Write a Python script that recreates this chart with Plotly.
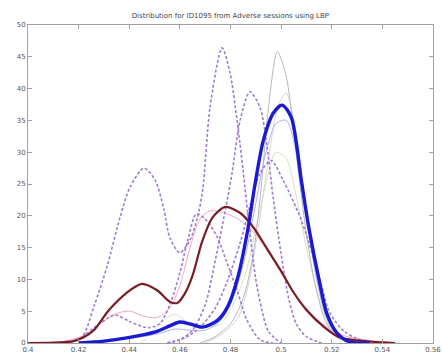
import plotly.graph_objects as go

# Axis ticks
x_ticks = [0.40, 0.42, 0.44, 0.46, 0.48, 0.50, 0.52, 0.54, 0.56]
x_tick_text = ["0.4", "0.42", "0.44", "0.46", "0.48", "0.5", "0.52", "0.54", "0.56"]
y_ticks = [0, 5, 10, 15, 20, 25, 30, 35, 40, 45, 50]

# Mean distribution (dark red)
red_x = [0.400, 0.410, 0.418, 0.422, 0.426, 0.432, 0.439, 0.445, 0.451, 0.456, 0.459,
         0.462, 0.465, 0.469, 0.473, 0.478, 0.484, 0.489, 0.494, 0.500, 0.505, 0.510,
         0.517, 0.523, 0.530, 0.536, 0.545]
red_y = [0.0, 0.05, 0.3, 0.9, 2.0, 5.2, 7.9, 9.3, 8.3, 6.5, 6.3,
         7.8, 10.6, 16.2, 19.8, 21.4, 20.4, 18.2, 15.1, 11.3, 7.9, 5.2,
         2.5, 0.9, 0.4, 0.2, 0.0]

# Genuine distribution (thick blue)
blue_x = [0.420, 0.430, 0.439, 0.450, 0.456, 0.460, 0.464, 0.469, 0.475, 0.479, 0.483,
          0.487, 0.4897, 0.493, 0.497, 0.5004, 0.504, 0.508, 0.511, 0.515, 0.518, 0.522,
          0.527, 0.535]
blue_y = [0.0, 0.3, 0.8, 1.7, 2.7, 3.3, 3.0, 2.5, 3.6, 5.8, 10.5,
          18.2, 25.0, 31.9, 36.2, 37.4, 35.5, 25.5, 18.0, 9.9, 4.7, 1.6,
          0.2, 0.0]

# Individual session curves, thin solid
gray1_x = [0.468, 0.474, 0.480, 0.485, 0.489, 0.492, 0.495, 0.4985, 0.502, 0.505,
           0.509, 0.513, 0.517, 0.521, 0.527]
gray1_y = [0.0, 1.0, 3.0, 7.0, 14.0, 24.0, 37.0, 45.8, 42.0, 33.0,
           20.0, 10.0, 4.0, 1.2, 0.0]

gray2_x = [0.470, 0.477, 0.483, 0.487, 0.491, 0.495, 0.499, 0.502, 0.505, 0.508,
           0.512, 0.516, 0.520, 0.526]
gray2_y = [0.0, 1.5, 4.0, 9.0, 18.0, 29.0, 37.5, 39.3, 35.0, 27.0,
           15.0, 6.5, 2.0, 0.0]

green_x = [0.445, 0.452, 0.458, 0.464, 0.470, 0.476, 0.481, 0.486, 0.490,
           0.494, 0.498, 0.502, 0.506, 0.510, 0.515, 0.520, 0.526]
green_y = [0.0, 3.0, 4.5, 3.0, 2.5, 3.0, 6.0, 11.0, 18.0,
           25.0, 30.0, 29.0, 23.0, 15.0, 7.0, 2.0, 0.0]

pink_x = [0.405, 0.415, 0.422, 0.428, 0.434, 0.440, 0.446, 0.451, 0.456, 0.460,
          0.464, 0.468, 0.472, 0.477, 0.483, 0.490, 0.497, 0.504, 0.511, 0.518,
          0.526, 0.535, 0.545]
pink_y = [0.0, 0.3, 1.2, 2.8, 4.5, 5.0, 4.2, 4.0, 5.5, 9.0,
          15.0, 19.5, 20.8, 20.5, 19.5, 17.0, 13.0, 8.5, 5.0, 2.5,
          1.0, 0.4, 0.0]

lblue_x = [0.425, 0.435, 0.445, 0.452, 0.458, 0.464, 0.470, 0.476, 0.481, 0.486,
           0.490, 0.494, 0.498, 0.502, 0.506, 0.510, 0.514, 0.518, 0.522, 0.528]
lblue_y = [0.0, 0.5, 1.0, 1.5, 2.2, 2.0, 2.0, 3.5, 7.0, 14.0,
           22.0, 30.0, 34.5, 35.0, 30.0, 20.0, 10.0, 4.0, 1.2, 0.0]

# Individual session curves, dashed
dash1_x = [0.415, 0.4213, 0.426, 0.4312, 0.4364, 0.4403, 0.4458, 0.4502, 0.4537,
           0.4561, 0.4600, 0.4640, 0.4668, 0.4690, 0.4719, 0.4767, 0.4798, 0.4826,
           0.4850, 0.4875, 0.4900, 0.4925, 0.4950, 0.500]
dash1_y = [0.0, 0.9, 5.7, 12.0, 19.8, 24.5, 27.5, 25.6, 21.0,
           16.5, 14.2, 16.2, 19.5, 24.0, 37.0, 46.4, 42.5, 35.0,
           27.0, 18.0, 10.0, 5.0, 1.8, 0.0]

dash2_x = [0.455, 0.460, 0.465, 0.470, 0.474, 0.478, 0.4806, 0.4838, 0.4877,
           0.4917, 0.4944, 0.4968, 0.500, 0.503, 0.506, 0.510, 0.516]
dash2_y = [0.0, 0.5, 2.0, 6.0, 13.0, 21.0, 26.7, 35.0, 39.5,
           37.0, 31.0, 23.0, 14.0, 7.0, 3.0, 1.0, 0.0]

dash3_x = [0.455, 0.462, 0.468, 0.474, 0.479, 0.484, 0.488, 0.4917, 0.4960,
           0.5008, 0.5075, 0.5106, 0.515, 0.5193, 0.525, 0.530, 0.538]
dash3_y = [0.0, 0.8, 2.5, 5.5, 10.0, 16.0, 22.0, 26.7, 28.7,
           25.6, 19.8, 16.2, 10.5, 4.7, 1.8, 0.7, 0.0]

dash4_x = [0.414, 0.420, 0.428, 0.4344, 0.440, 0.4474, 0.452, 0.456, 0.460,
           0.463, 0.4665, 0.470, 0.4747, 0.4786, 0.4826, 0.4865, 0.4917, 0.497]
dash4_y = [0.0, 0.6, 3.0, 4.4, 3.4, 2.4, 3.0, 6.0, 11.0,
           16.0, 20.3, 19.5, 16.7, 12.6, 8.3, 3.6, 0.5, 0.0]

DASH_COLOR = "#9f7cd2"

fig = go.Figure()

thin = [
    (pink_x, pink_y, "#f4a6cc", 1.0),
    (green_x, green_y, "#d4e4c0", 1.0),
    (gray2_x, gray2_y, "#d6d6d6", 1.0),
    (gray1_x, gray1_y, "#b8b8b8", 1.0),
    (lblue_x, lblue_y, "#b0b0f0", 1.0),
]
for xs, ys, col, w in thin:
    fig.add_trace(go.Scatter(x=xs, y=ys, mode="lines",
                             line=dict(color=col, width=w, shape="spline", smoothing=0.8)))

for xs, ys in [(dash1_x, dash1_y), (dash2_x, dash2_y), (dash3_x, dash3_y), (dash4_x, dash4_y)]:
    fig.add_trace(go.Scatter(x=xs, y=ys, mode="lines",
                             line=dict(color=DASH_COLOR, width=1.6, dash="3px,2px",
                                       shape="spline", smoothing=0.8)))

fig.add_trace(go.Scatter(x=red_x, y=red_y, mode="lines",
                         line=dict(color="#7a1c24", width=2.2, shape="spline", smoothing=0.8)))
fig.add_trace(go.Scatter(x=blue_x, y=blue_y, mode="lines",
                         line=dict(color="#1a1ad0", width=3.4, shape="spline", smoothing=0.8)))

axis_common = dict(showgrid=False, zeroline=False, showline=True, linecolor="#a0a0a0",
                   linewidth=1, mirror="ticks", ticks="inside", ticklen=4,
                   tickcolor="#a0a0a0", automargin=False,
                   tickfont=dict(family="DejaVu Sans", size=7, color="#555555"))

fig.update_layout(
    width=443, height=358,
    margin=dict(l=28, r=10, t=25, b=15),
    paper_bgcolor="white", plot_bgcolor="white",
    showlegend=False,
    title=dict(text="Distribution for ID1095 from Adverse sessions using LBP",
               x=0.52, xanchor="center", y=1 - 16 / 358, yanchor="middle",
               font=dict(family="DejaVu Sans", size=7, color="#444444")),
    xaxis=dict(range=[0.4, 0.56], tickvals=x_ticks, ticktext=x_tick_text, **axis_common),
    yaxis=dict(range=[0, 50], tickvals=y_ticks, **axis_common),
)

fig.write_html("out.html")
